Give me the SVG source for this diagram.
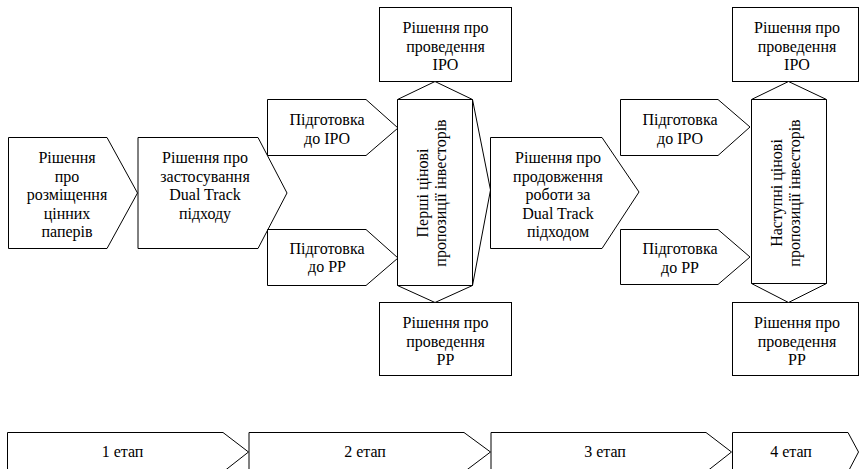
<svg xmlns="http://www.w3.org/2000/svg" width="859" height="469" viewBox="0 0 859 469">
<style>
.s{fill:#fff;stroke:#000;stroke-width:1}
.l{fill:none;stroke:#000;stroke-width:1}
text{font-family:'Liberation Serif','Times New Roman',serif;font-size:16px;fill:#000;text-anchor:middle}
</style>
<rect width="859" height="469" fill="#fff"/>
<g id="connectors">
<polyline class="l" points="472.5,99.5 490.5,190 472.5,285.5"/>
</g>
<g id="n1">
<polygon class="s" points="8.5,137.5 107,137.5 137.5,193 107,248.5 8.5,248.5"/>
<text x="67" y="163">Рішення</text><text x="67" y="181.5">про</text><text x="67" y="200">розміщення</text><text x="67" y="218.5">цінних</text><text x="67" y="237">паперів</text>
</g>
<g id="n2">
<polygon class="s" points="138,137.5 258,137.5 287,193 258,248.5 138,248.5"/>
<text x="205" y="163">Рішення про</text><text x="205" y="181.5">застосування</text><text x="205" y="200">Dual Track</text><text x="205" y="218.5">підходу</text>
</g>
<g id="n3">
<polygon class="s" points="267.5,99.5 366,99.5 398,128 366,155.5 267.5,155.5"/>
<text x="327" y="125">Підготовка</text><text x="327" y="143.5">до IPO</text>
</g>
<g id="n4">
<polygon class="s" points="267.5,229.5 366,229.5 398,258 366,285.5 267.5,285.5"/>
<text x="327" y="253.5">Підготовка</text><text x="327" y="272">до РР</text>
</g>
<g id="n5">
<rect class="s" x="379.5" y="7.5" width="132" height="74"/>
<text x="445.5" y="33">Рішення про</text><text x="445.5" y="51.5">проведення</text><text x="445.5" y="70">IPO</text>
</g>
<g id="n6">
<rect class="s" x="379.5" y="302.5" width="132" height="73"/>
<text x="445.5" y="328">Рішення про</text><text x="445.5" y="346.5">проведення</text><text x="445.5" y="365">РР</text>
</g>
<g id="n7">
<polygon class="s" points="397.5,99.5 435,81.5 472.5,99.5 472.5,285.5 435,302.5 397.5,285.5"/>
<line class="l" x1="397.5" y1="99.5" x2="472.5" y2="99.5"/>
<line class="l" x1="397.5" y1="285.5" x2="472.5" y2="285.5"/>
<g transform="translate(435,193) rotate(-90)">
<text x="0" y="-7">Перші цінові</text><text x="0" y="11">пропозиції інвесторів</text>
</g>
</g>
<g id="n8">
<polygon class="s" points="490.5,137.5 602,137.5 639,192 602,248.5 490.5,248.5"/>
<text x="558" y="163">Рішення про</text><text x="558" y="181.5">продовження</text><text x="558" y="200">роботи за</text><text x="558" y="218.5">Dual Track</text><text x="558" y="237">підходом</text>
</g>
<g id="n9">
<polygon class="s" points="620.5,99.5 718,99.5 750,127 718,155.5 620.5,155.5"/>
<text x="680" y="125">Підготовка</text><text x="680" y="143.5">до IPO</text>
</g>
<g id="n10">
<polygon class="s" points="620.5,229.5 718,229.5 750,257 718,284.5 620.5,284.5"/>
<text x="680" y="254">Підготовка</text><text x="680" y="272.5">до РР</text>
</g>
<g id="n11">
<rect class="s" x="732.5" y="7.5" width="126" height="74"/>
<text x="797" y="33">Рішення про</text><text x="797" y="51.5">проведення</text><text x="797" y="70">IPO</text>
</g>
<g id="n12">
<rect class="s" x="732.5" y="302.5" width="126" height="73"/>
<text x="797" y="328">Рішення про</text><text x="797" y="346.5">проведення</text><text x="797" y="365">РР</text>
</g>
<g id="n13">
<polygon class="s" points="751.5,99.5 788.5,81.5 826.5,99.5 826.5,283.5 788.5,302.5 751.5,283.5"/>
<line class="l" x1="751.5" y1="99.5" x2="826.5" y2="99.5"/>
<line class="l" x1="751.5" y1="283.5" x2="826.5" y2="283.5"/>
<g transform="translate(788.5,193) rotate(-90)">
<text x="0" y="-7">Наступні цінові</text><text x="0" y="11">пропозиції інвесторів</text>
</g>
</g>
<g id="s1">
<polygon class="s" points="7.5,432.5 223,432.5 248.5,452 223,472 7.5,472"/>
<text x="122.5" y="457">1 етап</text>
</g>
<g id="s2">
<polygon class="s" points="249,432.5 464,432.5 490.5,452 464,472 249,472"/>
<text x="365" y="457">2 етап</text>
</g>
<g id="s3">
<polygon class="s" points="491,432.5 706,432.5 731.5,452 706,472 491,472"/>
<text x="605" y="457">3 етап</text>
</g>
<g id="s4">
<polygon class="s" points="732.5,432.5 848,432.5 858.5,452 848,472 732.5,472"/>
<text x="791" y="457">4 етап</text>
</g>
</svg>
